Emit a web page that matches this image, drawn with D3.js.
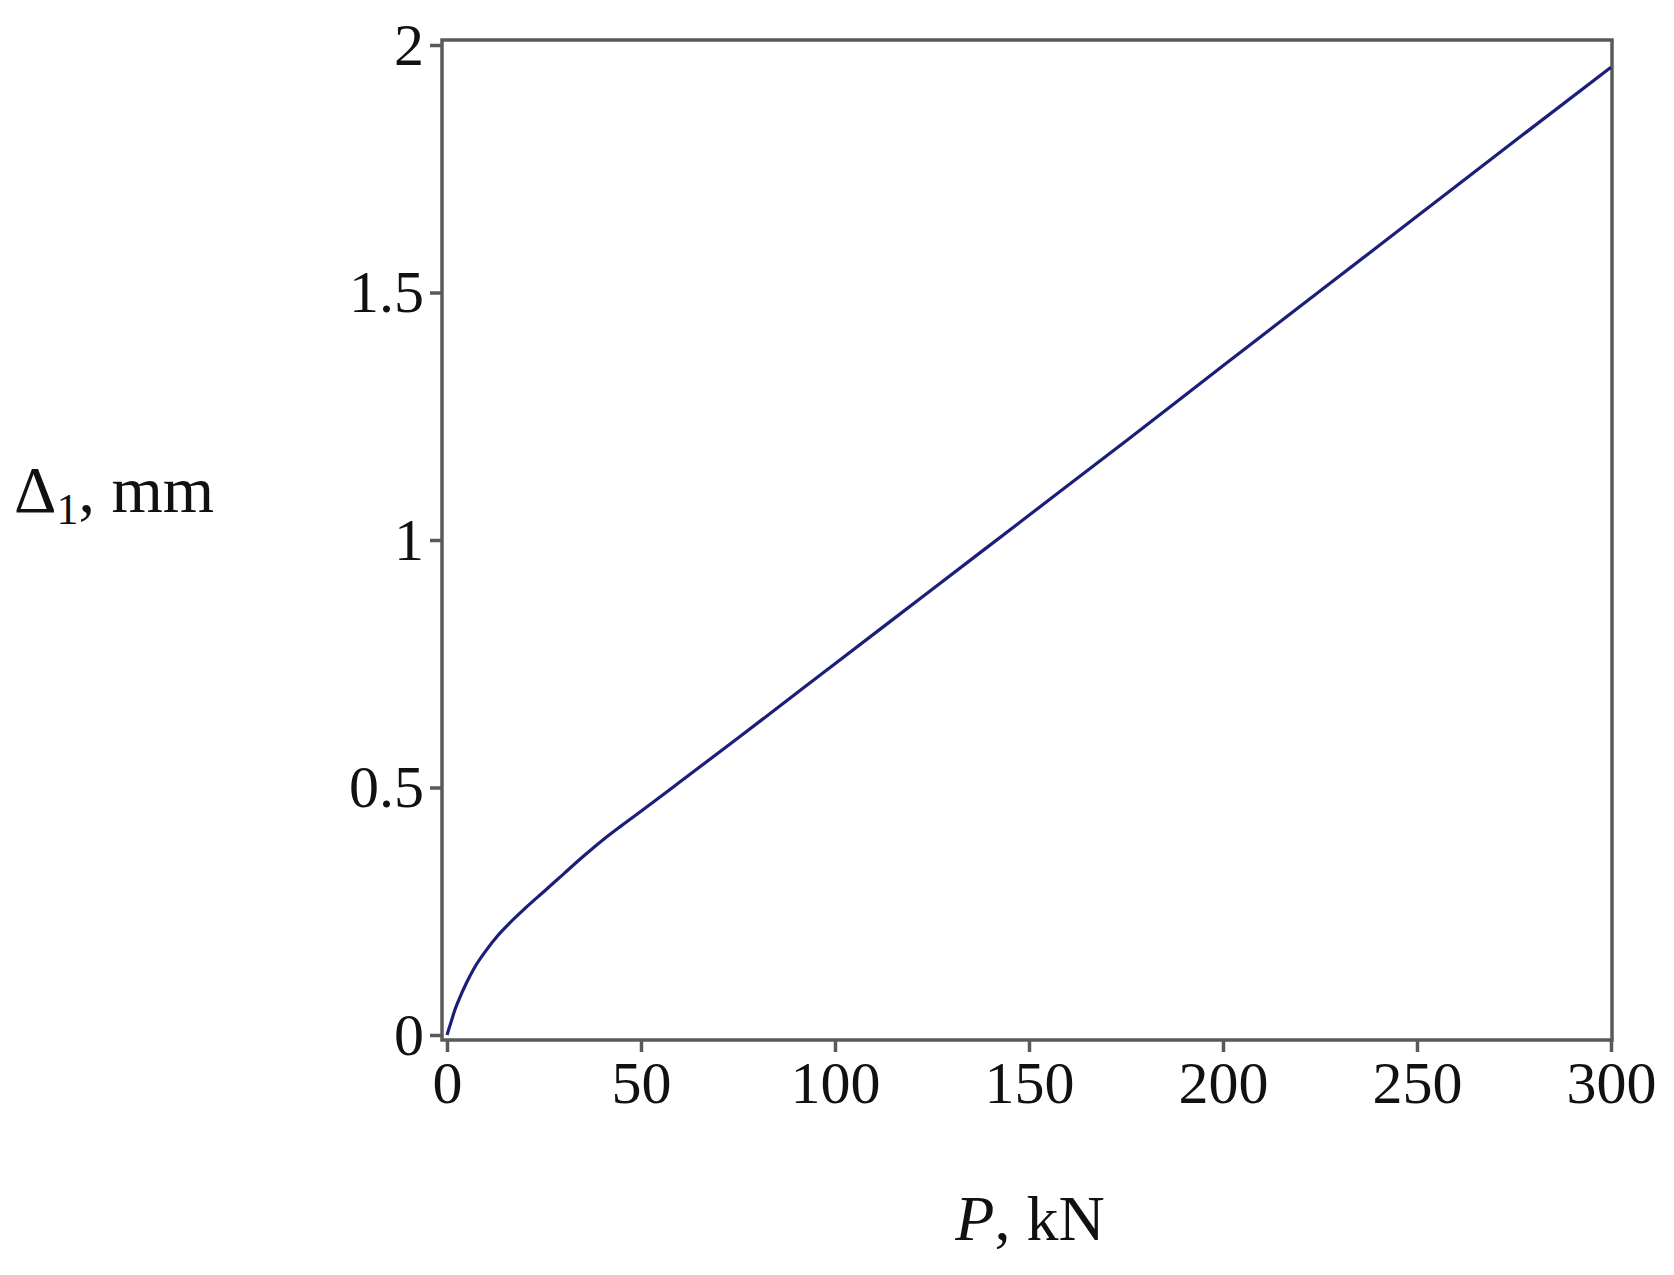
<!DOCTYPE html>
<html><head><meta charset="utf-8">
<script src="https://cdn.jsdelivr.net/npm/d3@7"></script>
<style>body{margin:0;background:#fff}</style></head>
<body><svg id="c" width="1674" height="1275"></svg>
<script>
const loadP = [0,1,2,3,5,7,10,13,16,20,25,30,35,40,45,50,60,75,100,125,150,175,200,225,250,275,300];
const delta = [0,0.025,0.05,0.07,0.105,0.135,0.17,0.2,0.225,0.255,0.29,0.325,0.36,0.393,0.423,0.452,0.511,0.6,0.75,0.9,1.05,1.2,1.352,1.503,1.654,1.805,1.955];
const xTicks = [0,50,100,150,200,250,300];
const yTicks = [0,0.5,1,1.5,2];
const yTickLabels = ["0","0.5","1","1.5","2"];

const svg = d3.select("#c");
const x = d3.scaleLinear().domain([0,300]).range([447,1611]);
const y = d3.scaleLinear().domain([0,2]).range([1035,45]);
const font = "'Liberation Serif','Times New Roman',serif";
const axisCol = "#5a5a5a";

svg.append("rect").attr("x",442).attr("y",40).attr("width",1170).attr("height",1000)
  .attr("fill","none").attr("stroke",axisCol).attr("stroke-width",3.5);

const gx = svg.append("g").attr("transform","translate(0,1040)")
  .call(d3.axisBottom(x).tickValues(xTicks).tickSize(12).tickPadding(8).tickFormat(d3.format("d")));
const gy = svg.append("g").attr("transform","translate(442,0)")
  .call(d3.axisLeft(y).tickValues(yTicks).tickSize(12).tickPadding(6).tickFormat((d,i)=>yTickLabels[i]));
[gx,gy].forEach(g=>{
  g.select(".domain").remove();
  g.selectAll(".tick line").attr("stroke",axisCol).attr("stroke-width",3.5);
  g.selectAll("text").attr("font-family",font).attr("font-size",60).attr("fill","#111");
});

svg.append("path").datum(loadP.map((p,i)=>[p,delta[i]]))
  .attr("fill","none").attr("stroke","#1c1f7a").attr("stroke-width",3.2)
  .attr("d", d3.line().x(d=>x(d[0])).y(d=>y(d[1])).curve(d3.curveMonotoneX));

const yl = svg.append("text").attr("x",14).attr("y",512).attr("font-family",font).attr("font-size",66).attr("fill","#111");
yl.append("tspan").text("Δ");
yl.append("tspan").attr("font-size",44).attr("dy",12).text("1");
yl.append("tspan").attr("dy",-12).text(", mm");

const xl = svg.append("text").attr("x",1030).attr("y",1240).attr("text-anchor","middle").attr("font-family",font).attr("font-size",64).attr("fill","#111");
xl.append("tspan").attr("font-style","italic").text("P");
xl.append("tspan").text(", kN");
</script></body></html>
